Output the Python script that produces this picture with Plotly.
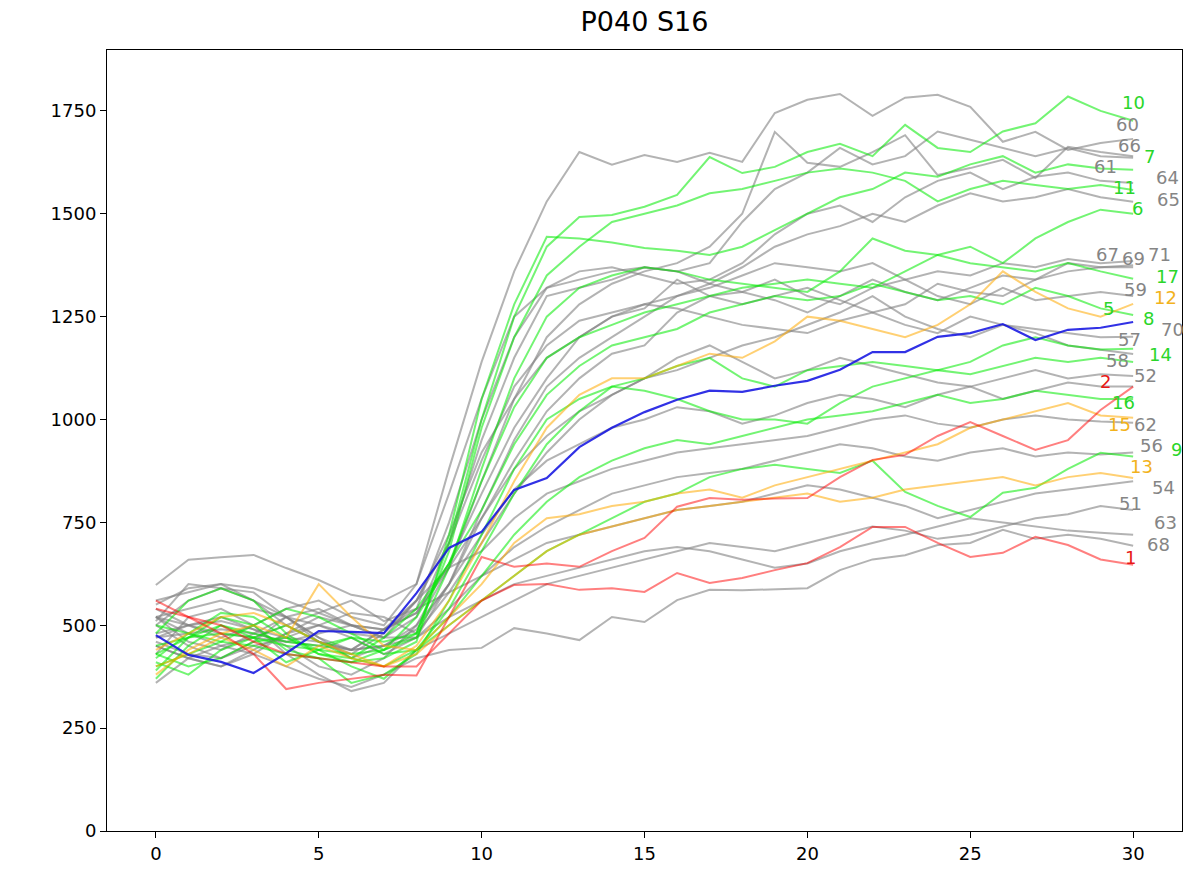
import plotly.graph_objects as go

# Time points (x axis)
days = list(range(31))

# Per-subject traces, one list per labelled subject
s60 = [598, 659, 665, 671, 639, 610, 574, 560, 600, 880,
       1140, 1360, 1530, 1650, 1619, 1643, 1626, 1648, 1626, 1745,
       1777, 1791, 1738, 1782, 1789, 1760, 1675, 1699, 1655, 1672, 1682]
s10 = [430, 470, 500, 480, 460, 450, 470, 460, 480, 700,
       1000, 1250, 1420, 1492, 1497, 1517, 1546, 1638, 1599, 1614,
       1650, 1670, 1640, 1716, 1660, 1650, 1700, 1720, 1785, 1750, 1726]
s61 = [520, 540, 560, 540, 520, 500, 480, 470, 520, 700,
       950, 1150, 1300, 1320, 1340, 1370, 1360, 1380, 1480, 1560,
       1600, 1660, 1620, 1640, 1700, 1680, 1660, 1640, 1660, 1640, 1636]
s66 = [480, 500, 510, 490, 470, 460, 440, 450, 500, 640,
       850, 1050, 1200, 1280, 1330, 1360, 1380, 1420, 1500, 1699,
       1624, 1614, 1650, 1691, 1594, 1611, 1631, 1587, 1663, 1650, 1640]
s7 = [400, 430, 460, 450, 430, 420, 410, 420, 460, 720,
      1050, 1280, 1444, 1440, 1430, 1417, 1410, 1400, 1420, 1460,
      1500, 1540, 1560, 1600, 1590, 1620, 1640, 1600, 1620, 1610, 1607]
s11 = [450, 470, 480, 470, 450, 440, 430, 440, 480, 680,
       980, 1200, 1350, 1420, 1480, 1500, 1520, 1550, 1560, 1580,
       1600, 1610, 1600, 1580, 1530, 1560, 1580, 1570, 1560, 1570, 1558]
s64 = [560, 580, 600, 590, 560, 530, 500, 490, 540, 750,
       1000, 1200, 1320, 1360, 1370, 1350, 1330, 1340, 1380, 1450,
       1500, 1520, 1480, 1540, 1580, 1600, 1560, 1590, 1600, 1580, 1575]
s65 = [450, 420, 400, 430, 480, 500, 470, 430, 470, 600,
       780, 950, 1080, 1150, 1200, 1250, 1300, 1330, 1370, 1420,
       1450, 1470, 1500, 1480, 1520, 1550, 1530, 1540, 1560, 1540, 1529]
s6 = [500, 480, 460, 500, 540, 520, 480, 440, 520, 650,
      850, 1030, 1150, 1200, 1230, 1260, 1280, 1300, 1320, 1330,
      1340, 1330, 1320, 1360, 1400, 1420, 1380, 1440, 1480, 1510, 1500]
s67 = [520, 500, 480, 470, 460, 480, 500, 490, 530, 650,
       820, 980, 1100, 1200, 1250, 1280, 1300, 1320, 1350, 1380,
       1370, 1360, 1380, 1340, 1360, 1350, 1380, 1370, 1390, 1380, 1385]
s69 = [470, 500, 520, 490, 450, 400, 380, 420, 500, 600,
       760, 900, 1020, 1100, 1160, 1180, 1260, 1300, 1280, 1300,
       1320, 1290, 1260, 1280, 1330, 1310, 1300, 1340, 1360, 1370, 1375]
s71 = [540, 500, 470, 500, 540, 560, 520, 500, 600, 820,
       1050, 1250, 1320, 1340, 1360, 1370, 1360, 1330, 1310, 1290,
       1260, 1300, 1340, 1310, 1290, 1320, 1350, 1340, 1380, 1370, 1370]
s17 = [420, 480, 530, 520, 470, 430, 410, 440, 470, 640,
       880, 1100, 1250, 1320, 1350, 1370, 1360, 1340, 1330, 1320,
       1310, 1360, 1440, 1410, 1400, 1380, 1370, 1360, 1380, 1360, 1342]
s59 = [500, 450, 420, 460, 520, 540, 500, 470, 560, 720,
       920, 1050, 1150, 1200, 1250, 1270, 1340, 1300, 1310, 1340,
       1300, 1280, 1320, 1340, 1300, 1280, 1320, 1290, 1300, 1310, 1300]
s12 = [440, 480, 520, 530, 500, 460, 430, 400, 450, 560,
       700, 850, 980, 1060, 1100, 1100, 1130, 1160, 1150, 1190,
       1250, 1240, 1220, 1200, 1230, 1280, 1360, 1310, 1270, 1250, 1281]
s5 = [480, 560, 590, 560, 480, 430, 420, 470, 540, 650,
      780, 940, 1060, 1130, 1180, 1200, 1220, 1260, 1280, 1300,
      1290, 1300, 1330, 1310, 1290, 1300, 1280, 1320, 1300, 1270, 1254]
s70 = [510, 600, 590, 560, 500, 460, 430, 480, 560, 700,
       900, 1080, 1180, 1240, 1260, 1280, 1270, 1250, 1230, 1220,
       1210, 1240, 1260, 1230, 1210, 1250, 1230, 1220, 1210, 1200, 1201]
s8 = [430, 400, 420, 460, 470, 440, 400, 370, 440, 540,
      680, 820, 940, 1020, 1080, 1100, 1130, 1150, 1100, 1080,
      1120, 1130, 1140, 1130, 1120, 1140, 1180, 1200, 1180, 1170, 1172]
s57 = [460, 430, 420, 450, 470, 500, 530, 520, 480, 580,
       700, 820, 920, 1000, 1060, 1100, 1120, 1150, 1180, 1200,
       1230, 1260, 1300, 1250, 1220, 1200, 1230, 1210, 1180, 1170, 1159]
s14 = [390, 470, 520, 500, 440, 420, 360, 380, 430, 560,
       720, 880, 1000, 1050, 1080, 1070, 1050, 1020, 1000, 1000,
       990, 1040, 1080, 1100, 1120, 1110, 1130, 1150, 1140, 1150, 1140]
s58 = [550, 590, 600, 560, 520, 460, 440, 490, 530, 640,
       760, 880, 960, 1020, 1060, 1100, 1150, 1180, 1140, 1100,
       1120, 1150, 1130, 1110, 1090, 1080, 1100, 1120, 1100, 1110, 1106]
s52 = [470, 480, 490, 480, 460, 450, 440, 450, 490, 600,
       720, 830, 900, 940, 980, 1000, 1030, 1020, 990, 1010,
       1040, 1060, 1050, 1030, 1060, 1080, 1050, 1070, 1090, 1080, 1080]
s2 = [560, 520, 480, 430, 345, 360, 370, 380, 378, 520,
      666, 642, 650, 642, 680, 712, 788, 809, 805, 808,
      809, 860, 902, 914, 960, 994, 960, 926, 950, 1023, 1080]
s16 = [410, 380, 440, 470, 500, 460, 420, 400, 440, 520,
       620, 720, 800, 860, 900, 930, 950, 940, 960, 980,
       1000, 1010, 1020, 1040, 1060, 1040, 1050, 1070, 1060, 1050, 1050]
s15 = [380, 440, 480, 500, 470, 600, 520, 450, 440, 520,
       600, 700, 760, 770, 790, 800, 820, 830, 810, 840,
       860, 880, 900, 920, 940, 980, 1000, 1020, 1040, 1010, 1004]
s62 = [520, 460, 440, 480, 520, 470, 440, 490, 560, 640,
       680, 760, 820, 850, 880, 900, 920, 930, 940, 950,
       960, 980, 1000, 1010, 990, 980, 1000, 1010, 1000, 995, 992]
s56 = [450, 420, 400, 440, 480, 520, 500, 470, 470, 540,
       620, 690, 740, 780, 820, 840, 860, 870, 880, 900,
       920, 940, 930, 910, 900, 920, 930, 910, 920, 915, 920]
s9 = [370, 450, 500, 470, 410, 440, 470, 430, 440, 500,
      560, 620, 680, 720, 760, 800, 820, 860, 880, 890,
      880, 870, 900, 824, 790, 763, 822, 834, 880, 919, 910]
s13 = [400, 430, 470, 440, 400, 450, 420, 400, 430, 500,
       560, 620, 680, 720, 740, 760, 780, 790, 800, 810,
       820, 800, 810, 830, 840, 850, 860, 840, 860, 870, 858]
s54 = [520, 480, 450, 470, 500, 530, 560, 510, 540, 580,
       620, 660, 700, 720, 740, 760, 780, 790, 800, 820,
       840, 830, 810, 790, 760, 780, 800, 820, 830, 840, 850]
s51 = [430, 520, 540, 500, 430, 380, 340, 360, 440, 480,
       520, 560, 600, 620, 640, 660, 680, 700, 690, 680,
       700, 720, 740, 730, 710, 720, 740, 760, 770, 790, 780]
s63 = [500, 560, 590, 580, 520, 470, 420, 450, 470, 520,
       560, 600, 620, 640, 660, 680, 690, 680, 660, 640,
       650, 680, 700, 720, 740, 760, 750, 740, 730, 725, 720]
s68 = [360, 420, 450, 430, 400, 370, 350, 380, 420, 440,
       445, 493, 480, 464, 520, 508, 561, 586, 585, 588,
       590, 634, 660, 670, 695, 700, 732, 710, 720, 710, 693]
s1 = [540, 520, 500, 460, 430, 420, 410, 400, 400, 480,
      560, 598, 600, 586, 590, 581, 627, 603, 615, 634,
      651, 690, 739, 739, 700, 666, 676, 715, 695, 660, 647]

# Group mean trace
mean_trace = [476, 428, 411, 384, 432, 486, 484, 481, 578, 688,
              727, 829, 858, 933, 980, 1018, 1048, 1070, 1067, 1082,
              1094, 1121, 1164, 1164, 1201, 1210, 1232, 1193, 1218, 1223, 1237]

# Subject ids, their response group, and the traces in the same order
subject_ids = ["60", "61", "66", "64", "65", "67", "69", "71", "59", "70",
               "57", "58", "52", "62", "56", "54", "51", "63", "68",
               "10", "7", "11", "6", "17", "5", "8", "14", "16", "9",
               "12", "15", "13", "2", "1"]
subject_groups = ["gray"] * 19 + ["green"] * 10 + ["orange"] * 3 + ["red"] * 2
subject_traces = [s60, s61, s66, s64, s65, s67, s69, s71, s59, s70,
                  s57, s58, s52, s62, s56, s54, s51, s63, s68,
                  s10, s7, s11, s6, s17, s5, s8, s14, s16, s9,
                  s12, s15, s13, s2, s1]

# Horizontal nudges (px) for the end-of-line labels
label_dx = [-6, -28, -4, 34, 35, -26, 0, 26, 2, 39,
            -4, -16, 12, 12, 18, 30, -3, 32, 25,
            0, 16, -9, 4, 34, -25, 15, 27, -10, 43,
            32, -14, 8, -28, -3]

line_colors = {
    "gray": "rgba(128,128,128,0.6)",
    "green": "rgba(0,235,0,0.55)",
    "orange": "rgba(255,170,0,0.55)",
    "red": "rgba(255,0,0,0.5)",
}
text_colors = {
    "gray": "#858585",
    "green": "#2ad62a",
    "orange": "#f2b21c",
    "red": "#e81818",
}

# Plot geometry, used to keep the end labels from sitting on top of each other
W, H = 1204, 878
M_L, M_R, M_T, M_B = 107, 22, 50, 47
X_RANGE = [-1.5, 31.5]
Y_RANGE = [0, 1898]
plot_h = H - M_T - M_B
px_per_unit = plot_h / (Y_RANGE[1] - Y_RANGE[0])
LABEL_SIZE = 18


def y_to_px(v):
    return M_T + (Y_RANGE[1] - v) * px_per_unit


# label boxes in screen pixels: centre x offset, centre y, width
anchor_px = [y_to_px(vals[-1]) for vals in subject_traces]
centres = [a - 7 for a in anchor_px]
widths = [0.64 * LABEL_SIZE * len(s) + 2 for s in subject_ids]
box_h = LABEL_SIZE + 3
for _ in range(400):
    moved = False
    for i in range(len(centres)):
        for j in range(i + 1, len(centres)):
            if abs(label_dx[i] - label_dx[j]) >= (widths[i] + widths[j]) / 2:
                continue
            gap = abs(centres[i] - centres[j])
            if gap < box_h:
                push = (box_h - gap) / 2 + 0.3
                if centres[i] <= centres[j]:
                    centres[i] -= push
                    centres[j] += push
                else:
                    centres[i] += push
                    centres[j] -= push
                moved = True
    if not moved:
        break

fig = go.Figure()
annotations = []
for k, (sid, grp, vals, dx) in enumerate(zip(subject_ids, subject_groups, subject_traces, label_dx)):
    fig.add_trace(go.Scatter(
        x=days, y=vals, mode="lines",
        line=dict(color=line_colors[grp], width=2),
        showlegend=False, hoverinfo="skip",
    ))
    annotations.append(dict(
        x=days[-1], y=vals[-1], text=sid, showarrow=False,
        xanchor="center", yanchor="middle", xshift=dx,
        yshift=anchor_px[k] - centres[k],
        font=dict(family="DejaVu Sans", size=LABEL_SIZE, color=text_colors[grp]),
    ))

fig.add_trace(go.Scatter(
    x=days, y=mean_trace, mode="lines",
    line=dict(color="rgba(20,20,225,0.88)", width=2.2),
    showlegend=False, hoverinfo="skip",
))

axis_common = dict(
    showgrid=False, zeroline=False,
    showline=True, linecolor="black", linewidth=1, mirror=True,
    ticks="outside", ticklen=6, tickwidth=1, tickcolor="black",
    tickfont=dict(family="DejaVu Sans", size=18, color="black"),
)

fig.update_layout(
    width=W, height=H,
    margin=dict(l=M_L, r=M_R, t=M_T, b=M_B),
    paper_bgcolor="white", plot_bgcolor="white",
    title=dict(text="P040 S16", xref="paper", x=0.5, xanchor="center",
               yref="container", y=0.975, yanchor="middle",
               font=dict(family="DejaVu Sans", size=27, color="black")),
    xaxis=dict(range=X_RANGE, tickvals=[0, 5, 10, 15, 20, 25, 30], **axis_common),
    yaxis=dict(range=Y_RANGE, tickvals=[0, 250, 500, 750, 1000, 1250, 1500, 1750], **axis_common),
    annotations=annotations,
)

fig.write_html("out.html")
